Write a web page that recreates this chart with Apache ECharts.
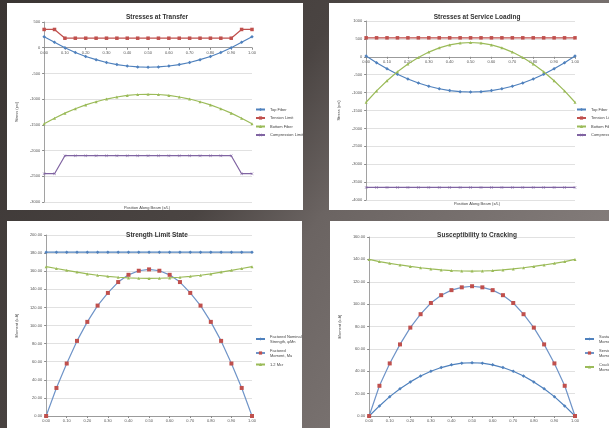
<!DOCTYPE html>
<html>
<head>
<meta charset="utf-8"/>
<title>Beam checks</title>
<style>
  html, body { margin: 0; padding: 0; }
  body {
    width: 609px; height: 428px; overflow: hidden; position: relative;
    background: linear-gradient(125deg, #3a3533 0%, #4a4442 38%, #6b6462 52%, #8e8785 100%);
  }
  .panel { position: absolute; background: #fff; }
</style>
</head>
<body>
<div id="c1" class="panel" style="left:7px;top:3px;width:296px;height:207px;"></div>
<div id="c2" class="panel" style="left:329px;top:3px;width:280px;height:207px;"></div>
<div id="c3" class="panel" style="left:7px;top:221px;width:295px;height:207px;"></div>
<div id="c4" class="panel" style="left:330px;top:221px;width:279px;height:207px;"></div>

<script src="https://cdn.jsdelivr.net/npm/echarts@6/dist/echarts.min.js"></script>
<script>
// position along beam, x/L
var xPos = [0, 0.05, 0.10, 0.15, 0.20, 0.25, 0.30, 0.35, 0.40, 0.45, 0.50,
            0.55, 0.60, 0.65, 0.70, 0.75, 0.80, 0.85, 0.90, 0.95, 1.00];

// stresses at transfer (psi)
var topTransfer = [215, 105, 0, -92, -170, -232, -287, -328, -356, -374, -380,
                   -374, -356, -328, -287, -232, -170, -92, 0, 105, 215];
var tensionTransfer = [355, 355, 185, 185, 185, 185, 185, 185, 185, 185, 185,
                       185, 185, 185, 185, 185, 185, 185, 185, 355, 355];
var bottomTransfer = [-1480, -1370, -1272, -1187, -1112, -1050, -998, -958, -928, -910, -905,
                      -910, -928, -958, -998, -1050, -1112, -1187, -1272, -1370, -1480];
var compTransfer = [-2450, -2450, -2100, -2100, -2100, -2100, -2100, -2100, -2100, -2100, -2100,
                    -2100, -2100, -2100, -2100, -2100, -2100, -2100, -2100, -2450, -2450];

// stresses at service loading (psi)
var topService = [25, -165, -335, -488, -620, -732, -823, -893, -943, -973, -983,
                  -973, -943, -893, -823, -732, -620, -488, -335, -165, 25];
var tensionService = [530, 530, 530, 530, 530, 530, 530, 530, 530, 530, 530,
                      530, 530, 530, 530, 530, 530, 530, 530, 530, 530];
var bottomService = [-1270, -952, -668, -418, -202, -18, 132, 250, 333, 383, 400,
                     383, 333, 250, 132, -18, -202, -418, -668, -952, -1270];
var compService = [-3650, -3650, -3650, -3650, -3650, -3650, -3650, -3650, -3650, -3650, -3650,
                   -3650, -3650, -3650, -3650, -3650, -3650, -3650, -3650, -3650, -3650];

// strength limit state (k-ft)
var phiMn = [181, 181, 181, 181, 181, 181, 181, 181, 181, 181, 181,
             181, 181, 181, 181, 181, 181, 181, 181, 181, 181];
var muFactored = [0, 31, 58, 83, 104, 122, 136, 148, 156, 160.5, 162,
                  160.5, 156, 148, 136, 122, 104, 83, 58, 31, 0];
var mcr12 = [165, 163, 161, 159, 157, 155.5, 154.3, 153.3, 152.6, 152.2, 152,
             152.2, 152.6, 153.3, 154.3, 155.5, 157, 159, 161, 163, 165];

// susceptibility to cracking (k-ft)
var mSustained = [0, 9, 17.3, 24.3, 30.5, 35.7, 40, 43.3, 45.7, 47.2, 47.6,
                  47.2, 45.7, 43.3, 40, 35.7, 30.5, 24.3, 17.3, 9, 0];
var mService = [0, 27, 47, 64, 79, 91, 101, 108, 112.5, 115, 116,
                115, 112.5, 108, 101, 91, 79, 64, 47, 27, 0];
var mCracking = [140, 138, 136.5, 135, 133.7, 132.5, 131.5, 130.6, 130, 129.6, 129.5,
                 129.6, 130, 130.6, 131.5, 132.5, 133.7, 135, 136.5, 138, 140];

var FONT = 'Liberation Sans, Arial, sans-serif';
var CROSS = 'path://M0,1L1,0L5,4L9,0L10,1L6,5L10,9L9,10L5,6L1,10L0,9L4,5Z';

function pairs(arr) {
  return xPos.map(function (x, i) { return [x, arr[i]]; });
}

function line(name, arr, lineColor, markColor, symbol, size) {
  return {
    name: name, type: 'line', data: pairs(arr),
    symbol: symbol, symbolSize: size,
    lineStyle: { color: lineColor, width: 1.2 },
    itemStyle: { color: markColor },
    animation: false
  };
}

function build(id, cfg) {
  var chart = echarts.init(document.getElementById(id));
  var option = {
    animation: false,
    textStyle: { fontFamily: FONT },
    title: [
      { text: cfg.title, left: cfg.titleX, top: 6, textAlign: 'center',
        textStyle: { fontSize: 6.5, fontWeight: 'bold', color: '#333', fontFamily: FONT } },
      { text: 'Position Along Beam (x/L)', left: cfg.xNameX, top: cfg.xNameY, textAlign: 'center',
        textStyle: { fontSize: 4, fontWeight: 'normal', color: '#444', fontFamily: FONT } }
    ],
    grid: cfg.grid,
    legend: {
      orient: 'vertical', left: cfg.legendLeft, top: cfg.legendTop,
      itemWidth: 9, itemHeight: 4, itemGap: cfg.legendGap,
      textStyle: { fontSize: 4, color: '#444', fontFamily: FONT, lineHeight: 5 }
    },
    xAxis: {
      type: 'value', min: 0, max: 1, interval: 0.1,
      axisLine: { onZero: false, lineStyle: { color: '#8a8a8a', width: 0.8 } },
      axisTick: { show: true, length: 2, lineStyle: { color: '#8a8a8a' } },
      axisLabel: { fontSize: 4, color: '#555', margin: 3,
        formatter: function (v) { return v.toFixed(2); } },
      splitLine: { show: false }
    },
    yAxis: {
      type: 'value', min: cfg.yMin, max: cfg.yMax, interval: cfg.yStep,
      name: cfg.yName, nameLocation: 'middle', nameGap: cfg.yNameGap,
      nameTextStyle: { fontSize: 4, color: '#444', fontFamily: FONT },
      axisLine: { show: true, onZero: false, lineStyle: { color: '#8a8a8a', width: 0.8 } },
      axisTick: { show: true, length: 2, lineStyle: { color: '#8a8a8a' } },
      axisLabel: { fontSize: 4, color: '#555', margin: 4,
        formatter: cfg.yFmt },
      splitLine: { lineStyle: { color: '#d9d9d9', width: 0.8 } }
    },
    series: cfg.series
  };
  chart.setOption(option);

  // put the horizontal axis where stress is zero, like the Excel original
  if (cfg.yMin < 0) {
    var zeroY = chart.convertToPixel({ yAxisIndex: 0 }, 0);
    var baseY = chart.convertToPixel({ yAxisIndex: 0 }, cfg.yMin);
    chart.setOption({ xAxis: { offset: zeroY - baseY } });
  }
  return chart;
}

var BLUE = '#4f81bd', RED = '#c0504d', GREEN = '#9bbb59', PURPLE = '#8064a2', LBLUE = '#6f94c8';
var intFmt = function (v) { return String(v); };
var decFmt = function (v) { return v.toFixed(2); };

build('c1', {
  title: 'Stresses at Transfer', titleX: 145, xNameX: 135, xNameY: 198,
  grid: { left: 26, right: 51, top: 19, bottom: 8 },
  legendLeft: 243, legendTop: 99, legendGap: 3.5,
  yMin: -3000, yMax: 500, yStep: 500, yName: 'Stress (psi)', yNameGap: 16, yFmt: intFmt,
  series: [
    line('Top Fiber', topTransfer, BLUE, BLUE, 'diamond', 3.5),
    line('Tension Limit', tensionTransfer, RED, RED, 'rect', 3.5),
    line('Bottom Fiber', bottomTransfer, GREEN, GREEN, 'triangle', 3),
    line('Compression Limit', compTransfer, PURPLE, PURPLE, CROSS, 3)
  ]
});

build('c2', {
  title: 'Stresses at Service Loading', titleX: 143, xNameX: 143, xNameY: 194,
  grid: { left: 26, right: 34, top: 18, bottom: 10 },
  legendLeft: 242, legendTop: 99, legendGap: 3.5,
  yMin: -4000, yMax: 1000, yStep: 500, yName: 'Stress (psi)', yNameGap: 13, yFmt: intFmt,
  series: [
    line('Top Fiber', topService, BLUE, BLUE, 'diamond', 3.5),
    line('Tension Limit', tensionService, RED, RED, 'rect', 3.5),
    line('Bottom Fiber', bottomService, GREEN, GREEN, 'triangle', 3),
    line('Compression Limit', compService, PURPLE, PURPLE, CROSS, 3)
  ]
});

build('c3', {
  title: 'Strength Limit State', titleX: 145, xNameX: 135, xNameY: 204,
  grid: { left: 26, right: 50, top: 14, bottom: 12 },
  legendLeft: 243, legendTop: 108, legendGap: 4,
  yMin: 0, yMax: 200, yStep: 20, yName: 'Moment (k-ft)', yNameGap: 17, yFmt: decFmt,
  series: [
    line('Factored Nominal\nStrength, \u03c6Mn', phiMn, BLUE, BLUE, 'diamond', 3.5),
    line('Factored\nMoment, Mu', muFactored, LBLUE, RED, 'rect', 4),
    line('1.2 Mcr', mcr12, GREEN, GREEN, 'triangle', 3)
  ]
});

build('c4', {
  title: 'Susceptibility to Cracking', titleX: 142, xNameX: 142, xNameY: 204,
  grid: { left: 26, right: 34, top: 16, bottom: 12 },
  legendLeft: 249, legendTop: 108, legendGap: 4,
  yMin: 0, yMax: 160, yStep: 20, yName: 'Moment (k-ft)', yNameGap: 16, yFmt: decFmt,
  series: [
    line('Sustained\nMoment', mSustained, BLUE, BLUE, 'diamond', 3.5),
    line('Service Load\nMoment', mService, LBLUE, RED, 'rect', 4),
    line('Cracking\nMoment, Mcr', mCracking, GREEN, GREEN, 'triangle', 3)
  ]
});
</script>
</body>
</html>
